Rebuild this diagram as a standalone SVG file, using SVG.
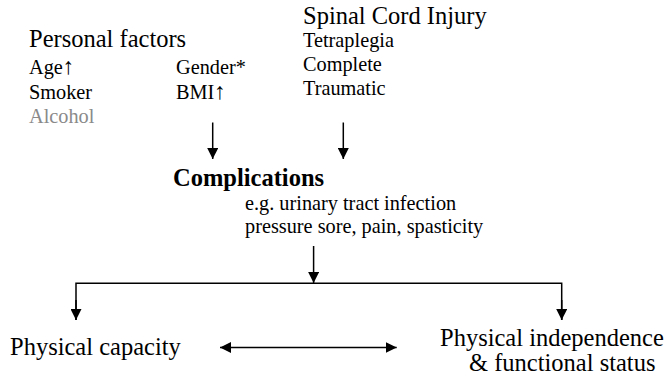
<svg xmlns="http://www.w3.org/2000/svg" width="668" height="378" viewBox="0 0 668 378">
  <style>
    .h { font-size: 24.5px; }
    .s { font-size: 20.3px; }
    .b { font-size: 24.5px; font-weight: bold; }
    .up { font-size: 23px; }
    .grey { fill: #8a8a8a; }
    .conn { stroke: #000; stroke-width: 1.5; fill: none; }
  </style>
  <defs>
    <marker id="ah" viewBox="0 0 11 11" refX="11" refY="5.5" markerWidth="11" markerHeight="11" markerUnits="userSpaceOnUse" orient="auto-start-reverse">
      <path d="M0,0 L11,5.5 L0,11 z" fill="#000"/>
    </marker>
  </defs>
  <rect width="668" height="378" fill="#fff"/>

  <g font-family="Liberation Serif, serif" fill="#000">
  <g id="personal-factors">
    <text class="h" x="29" y="47">Personal factors</text>
    <text class="s" x="29" y="74">Age<tspan class="up">↑</tspan></text>
    <text class="s" x="29" y="99">Smoker</text>
    <text class="s grey" x="29" y="123">Alcohol</text>
    <text class="s" x="176" y="74">Gender*</text>
    <text class="s" x="176" y="99">BMI<tspan class="up">↑</tspan></text>
  </g>

  <g id="spinal-cord-injury">
    <text class="h" x="303" y="23.5">Spinal Cord Injury</text>
    <text class="s" x="303" y="47">Tetraplegia</text>
    <text class="s" x="303" y="71">Complete</text>
    <text class="s" x="303" y="95">Traumatic</text>
  </g>

  <g id="complications">
    <text class="b" x="173" y="186">Complications</text>
    <text class="s" x="245" y="210">e.g. urinary tract infection</text>
    <text class="s" x="245" y="233">pressure sore, pain, spasticity</text>
  </g>

  <g id="physical-capacity">
    <text class="h" x="10" y="355">Physical capacity</text>
  </g>

  <g id="physical-independence">
    <text class="h" x="440" y="346">Physical independence</text>
    <text class="h" x="469" y="370.5">&amp; functional status</text>
  </g>
  </g>

  <g id="connectors">
    <line class="conn" x1="212.7" y1="122.5" x2="212.7" y2="159" marker-end="url(#ah)"/>
    <line class="conn" x1="343.3" y1="122.5" x2="343.3" y2="159" marker-end="url(#ah)"/>
    <line class="conn" x1="313.6" y1="246" x2="313.6" y2="283" marker-end="url(#ah)"/>
    <polyline class="conn" points="76,320 76,283.3 561.7,283.3 561.7,320" />
    <line class="conn" x1="76" y1="300" x2="76" y2="320" marker-end="url(#ah)"/>
    <line class="conn" x1="561.7" y1="300" x2="561.7" y2="320" marker-end="url(#ah)"/>
    <line class="conn" x1="220" y1="347.5" x2="396.7" y2="347.5" marker-start="url(#ah)" marker-end="url(#ah)"/>
  </g>
</svg>
